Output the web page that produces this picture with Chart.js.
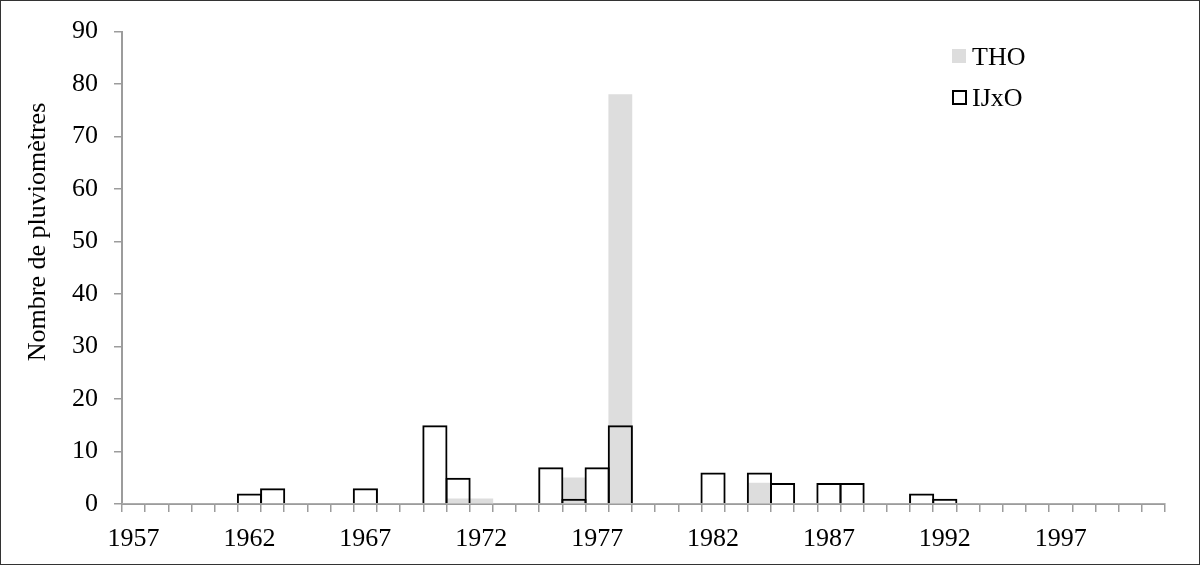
<!DOCTYPE html>
<html>
<head>
    <title>Nombre de pluviomètres</title>
    <script src="https://cdn.jsdelivr.net/npm/chart.js"></script>
    <style>
        body { margin: 0; background: #fff; }
        .chart-container {
            position: relative;
            width: 1200px;
            height: 565px;
        }
        .frame {
            position: absolute;
            left: 0; top: 0; right: 0; bottom: 0;
            border: 1px solid #333;
            pointer-events: none;
        }
    </style>
</head>
<body>
    <div class="chart-container">
        <canvas id="rainChart" width="1200" height="565"></canvas>
        <div class="frame"></div>
    </div>

    <script>
        // Données
        const years = [
            '1957', '1958', '1959', '1960', '1961',
            '1962', '1963', '1964', '1965', '1966',
            '1967', '1968', '1969', '1970', '1971',
            '1972', '1973', '1974', '1975', '1976',
            '1977', '1978', '1979', '1980', '1981',
            '1982', '1983', '1984', '1985', '1986',
            '1987', '1988', '1989', '1990', '1991',
            '1992', '1993', '1994', '1995', '1996',
            '1997', '1998', '1999', '2000', '2001'
        ];
        const thoValues = [
            0, 0, 0, 0, 0,
            0, 0, 0, 0, 0,
            0, 0, 0, 0, 1,
            1, 0, 0, 0, 5,
            0, 78, 0, 0, 0,
            0, 0, 4, 0, 0,
            0, 0, 0, 0, 0,
            0, 0, 0, 0, 0,
            0, 0, 0, 0, 0
        ];
        const ijxoValues = [
            0, 0, 0, 0, 0,
            2, 3, 0, 0, 0,
            3, 0, 0, 15, 5,
            0, 0, 0, 7, 1,
            7, 15, 0, 0, 0,
            6, 0, 6, 4, 0,
            4, 4, 0, 0, 2,
            1, 0, 0, 0, 0,
            0, 0, 0, 0, 0
        ];
        const yTicks = [0, 10, 20, 30, 40, 50, 60, 70, 80, 90];
        const yTitle = 'Nombre de pluviomètres';
        const legendLabels = ['THO', 'IJxO'];

        const FONT = '"Liberation Serif", "Times New Roman", serif';
        const AXIS_GREY = '#9c9c9c';
        const THO_GREY = '#dddddd';

        // titre de l'axe Y et légende dessinés à la main
        const extras = {
            id: 'extras',
            afterDraw(chart) {
                const ctx = chart.ctx;
                ctx.save();
                ctx.fillStyle = '#000';
                ctx.font = '26px ' + FONT;
                ctx.textAlign = 'center';
                ctx.textBaseline = 'middle';
                ctx.translate(38, 232);
                ctx.rotate(-Math.PI / 2);
                ctx.fillText(yTitle, 0, 0);
                ctx.restore();

                ctx.save();
                ctx.font = '26px ' + FONT;
                ctx.textAlign = 'left';
                ctx.textBaseline = 'middle';
                ctx.fillStyle = THO_GREY;
                ctx.fillRect(952, 49, 14, 14);
                ctx.strokeStyle = '#000';
                ctx.lineWidth = 2;
                ctx.strokeRect(953, 91, 13, 13);
                ctx.fillStyle = '#000';
                ctx.fillText(legendLabels[0], 972, 58);
                ctx.fillText(legendLabels[1], 972, 99);
                ctx.restore();
            }
        };

        const ctx = document.getElementById('rainChart').getContext('2d');
        new Chart(ctx, {
            type: 'bar',
            data: {
                labels: years,
                datasets: [
                    {
                        // dessiné en dernier -> au-dessus
                        label: legendLabels[1],
                        data: ijxoValues,
                        backgroundColor: 'rgba(0,0,0,0)',
                        borderColor: '#000',
                        borderWidth: 2,
                        borderSkipped: 'start',
                        grouped: false,
                        barPercentage: 1.086,
                        categoryPercentage: 1
                    },
                    {
                        label: legendLabels[0],
                        data: thoValues,
                        backgroundColor: THO_GREY,
                        borderWidth: 0,
                        grouped: false,
                        barPercentage: 1,
                        categoryPercentage: 1
                    }
                ]
            },
            options: {
                responsive: false,
                animation: false,
                layout: {
                    padding: { left: 0, right: 35, top: 29, bottom: 0 }
                },
                plugins: {
                    legend: { display: false },
                    tooltip: { enabled: false }
                },
                scales: {
                    x: {
                        offset: true,
                        grid: {
                            offset: true,
                            drawOnChartArea: false,
                            drawTicks: true,
                            tickLength: 8,
                            color: AXIS_GREY,
                            lineWidth: 1.5
                        },
                        border: { color: AXIS_GREY, width: 2 },
                        ticks: {
                            autoSkip: false,
                            maxRotation: 0,
                            padding: 12,
                            color: '#000',
                            font: { family: FONT, size: 26 },
                            callback: function (value, index) {
                                return index % 5 === 0 ? years[index] : '';
                            }
                        },
                        afterFit: function (scale) { scale.height = 61; }
                    },
                    y: {
                        min: 0,
                        max: 90,
                        afterBuildTicks: function (scale) {
                            scale.ticks = yTicks.map(v => ({ value: v }));
                        },
                        grid: {
                            drawOnChartArea: false,
                            drawTicks: true,
                            tickLength: 8,
                            color: AXIS_GREY,
                            lineWidth: 1.5
                        },
                        border: { color: AXIS_GREY, width: 2 },
                        ticks: {
                            padding: 16,
                            color: '#000',
                            font: { family: FONT, size: 26 }
                        },
                        afterFit: function (scale) { scale.width = 122; }
                    }
                }
            },
            plugins: [extras]
        });
    </script>
</body>
</html>
